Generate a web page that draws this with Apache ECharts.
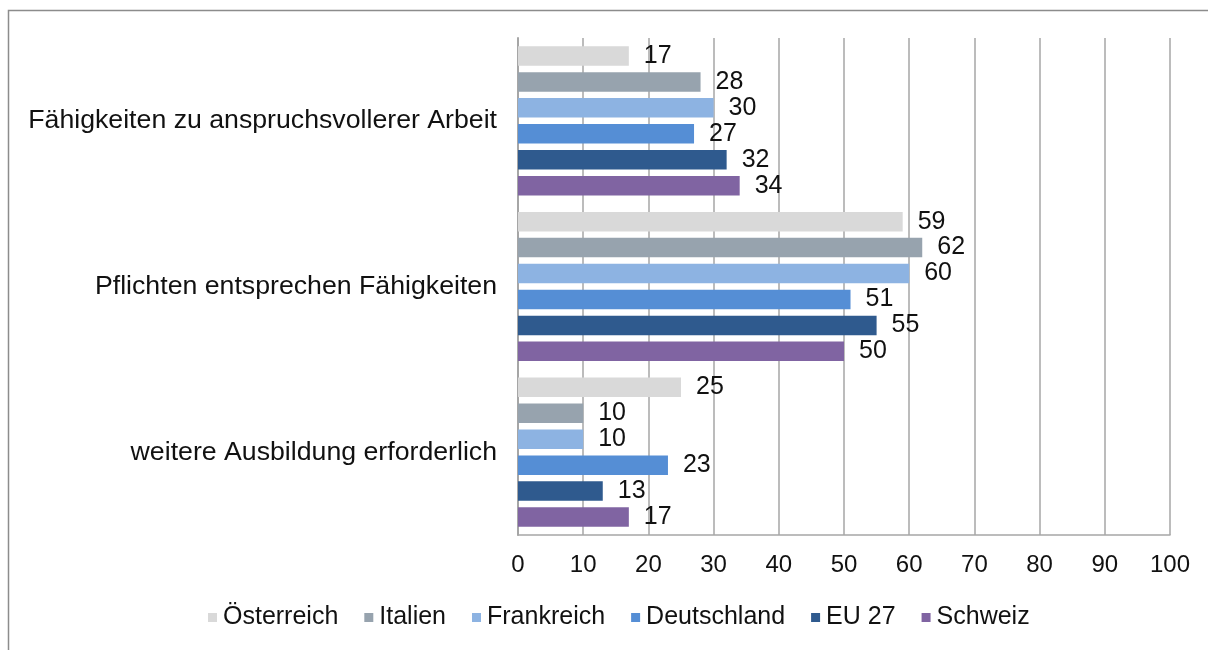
<!DOCTYPE html>
<html>
<head>
<meta charset="utf-8">
<script src="https://cdn.jsdelivr.net/npm/echarts@6/dist/echarts.min.js"></script>
<style>
  html, body { margin: 0; padding: 0; background: #ffffff; }
  #chart { width: 1208px; height: 650px; }
</style>
</head>
<body>
<div id="chart"></div>
<script>
// Kategorien (von oben nach unten)
const categories = [
  'Fähigkeiten zu anspruchsvollerer Arbeit',
  'Pflichten entsprechen Fähigkeiten',
  'weitere Ausbildung erforderlich'
];

// Länder / Serien
const seriesNames = ['Österreich', 'Italien', 'Frankreich', 'Deutschland', 'EU 27', 'Schweiz'];

// Werte in Prozent je Land, in Reihenfolge der Kategorien
const oesterreich = [17, 59, 25];
const italien     = [28, 62, 10];
const frankreich  = [30, 60, 10];
const deutschland = [27, 51, 23];
const eu27        = [32, 55, 13];
const schweiz     = [34, 50, 17];

const seriesColors = ['#D9D9D9', '#97A3AE', '#8DB3E2', '#558ED5', '#2F5A8E', '#8064A2'];

const valueData = [oesterreich, italien, frankreich, deutschland, eu27, schweiz];

const FONT = '"Liberation Sans", Arial, sans-serif';
const TEXT = '#111111';

const chart = echarts.init(document.getElementById('chart'), null, { renderer: 'canvas' });

const series = seriesNames.map((name, i) => ({
  name: name,
  type: 'bar',
  data: valueData[i],
  barWidth: 19.5,
  barGap: '33%',
  itemStyle: { color: seriesColors[i] },
  label: {
    show: true,
    position: 'right',
    distance: 15,
    color: TEXT,
    fontFamily: FONT,
    fontSize: 25,
    padding: [4, 0, 0, 0]
  },
  animation: false
}));

chart.setOption({
  animation: false,
  backgroundColor: '#ffffff',
  textStyle: { fontFamily: FONT, color: TEXT },
  graphic: [{
    type: 'rect',
    silent: true,
    shape: { x: 8.5, y: 10.5, width: 1300, height: 700 },
    style: { fill: 'none', stroke: '#8c8c8c', lineWidth: 1.5 }
  }],
  grid: { left: 518, right: 38, top: 38, bottom: 115, containLabel: false },
  legend: {
    data: seriesNames,
    left: 203,
    top: 600,
    itemWidth: 9,
    itemHeight: 9,
    itemGap: 26,
    icon: 'rect',
    textStyle: { fontFamily: FONT, fontSize: 25, color: TEXT, padding: [0, 0, 0, 1] }
  },
  xAxis: {
    type: 'value',
    min: 0,
    max: 100,
    interval: 10,
    axisLine: { show: true, lineStyle: { color: '#a6a6a6', width: 1.5 } },
    axisTick: { show: false },
    splitLine: { show: true, lineStyle: { color: '#a6a6a6', width: 1.5 } },
    axisLabel: { color: TEXT, fontFamily: FONT, fontSize: 24, margin: 18 }
  },
  yAxis: {
    type: 'category',
    data: categories,
    inverse: true,
    axisLine: { show: true, lineStyle: { color: '#a6a6a6', width: 2 } },
    axisTick: { show: false },
    axisLabel: { color: TEXT, fontFamily: FONT, fontSize: 26.7, margin: 21, padding: [5, 0, 0, 0] }
  },
  series: series
});
</script>
</body>
</html>
